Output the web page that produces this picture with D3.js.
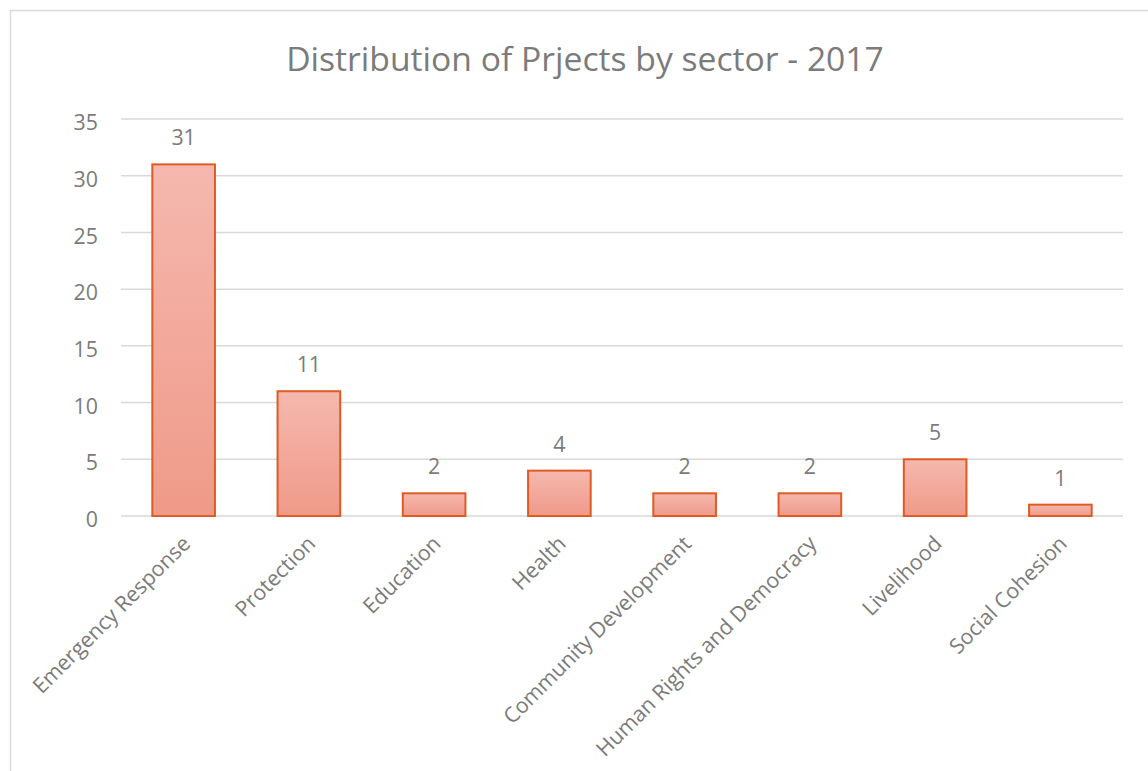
<!DOCTYPE html>
<html><head><meta charset="utf-8">
<script src="https://cdn.jsdelivr.net/npm/d3@7"></script>
<style>body{margin:0;background:#fff}svg{display:block}</style>
</head><body>
<script>
const categories = ["Emergency Response","Protection","Education","Health","Community Development","Human Rights and Democracy","Livelihood","Social Cohesion"];
const values = [31,11,2,4,2,2,5,1];
const yTicks = [0,5,10,15,20,25,30,35];
const title = "Distribution of Prjects by sector - 2017";

const W=1148,H=771;
const svg=d3.select("body").append("svg").attr("width",W).attr("height",H);
const font="'Open Sans', Lato, sans-serif";
const txt="#7b7b7b";

// measure helper: font size that gives a target text length
function fitSize(str, target, base){
  const t=svg.append("text").attr("font-family",font).attr("font-size",base).text(str);
  const len=t.node().getComputedTextLength(); t.remove();
  return base*target/len;
}
const labelSize=fitSize(categories[0],212,20);
const titleSize=fitSize(title,598,30);

// frame
svg.append("line").attr("x1",10).attr("x2",W).attr("y1",10.5).attr("y2",10.5).attr("stroke","#d9d9d9").attr("stroke-width",1.5);
svg.append("line").attr("x1",10.5).attr("x2",10.5).attr("y1",10).attr("y2",H).attr("stroke","#d9d9d9").attr("stroke-width",1.5);

const defs=svg.append("defs");
const g=defs.append("linearGradient").attr("id","barg").attr("x1",0).attr("x2",0).attr("y1",0).attr("y2",1);
g.append("stop").attr("offset","0%").attr("stop-color","#f5b8ae");
g.append("stop").attr("offset","100%").attr("stop-color","#ef9a89");

const x=d3.scaleBand().domain(categories).range([121,1123]).paddingInner(0.5).paddingOuter(0.25);
const y=d3.scaleLinear().domain([0,35]).range([516,119]);

// gridlines
svg.append("g").selectAll("line").data(yTicks).join("line")
  .attr("x1",121).attr("x2",1123).attr("y1",d=>y(d)).attr("y2",d=>y(d))
  .attr("stroke","#d9d9d9").attr("stroke-width",1.5);

// y axis labels
const yAxis=d3.axisLeft(y).tickValues(yTicks).tickSize(0).tickPadding(0);
const ya=svg.append("g").attr("transform","translate(98,0)").call(yAxis);
ya.select(".domain").remove();
ya.selectAll("text").attr("font-family",font).attr("font-size",labelSize).attr("fill",txt).attr("dy","0.5em");

// bars
svg.append("g").selectAll("rect").data(values).join("rect")
  .attr("x",(d,i)=>x(categories[i])).attr("width",x.bandwidth())
  .attr("y",d=>y(d)).attr("height",d=>y(0)-y(d))
  .attr("fill","url(#barg)").attr("stroke","#e05a24").attr("stroke-width",2);

// data labels
svg.append("g").selectAll("text").data(values).join("text")
  .attr("x",(d,i)=>x(categories[i])+x.bandwidth()/2).attr("y",d=>y(d)-19)
  .attr("text-anchor","middle").attr("font-family",font).attr("font-size",labelSize).attr("fill",txt)
  .text(d=>d);

// x axis labels
const xAxis=d3.axisBottom(x).tickSize(0).tickPadding(0);
const xa=svg.append("g").attr("transform","translate(0,516)").call(xAxis);
xa.select(".domain").remove();
xa.selectAll("text").attr("font-family",font).attr("font-size",labelSize).attr("fill",txt)
  .attr("text-anchor","end").attr("y",0).attr("dy",null)
  .attr("transform","translate(8,29) rotate(-45)");

// title
svg.append("text").attr("x",585).attr("y",71).attr("text-anchor","middle")
  .attr("font-family",font).attr("font-size",titleSize).attr("fill",txt).text(title);
</script>
</body></html>
